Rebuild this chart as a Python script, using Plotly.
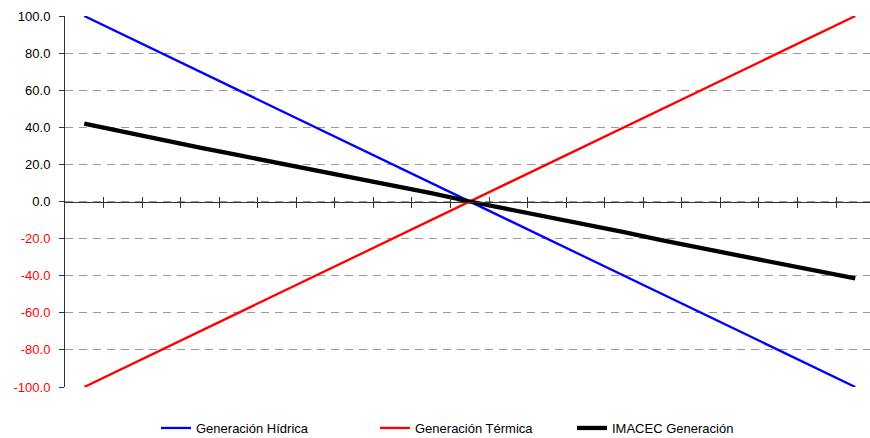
import plotly.graph_objects as go

# Series values (one point per scenario step)
hidrica = [100, 90, 80, 70, 60, 50, 40, 30, 20, 10, 0,
           -10, -20, -30, -40, -50, -60, -70, -80, -90, -100]
termica = [-100, -90, -80, -70, -60, -50, -40, -30, -20, -10, 0,
           10, 20, 30, 40, 50, 60, 70, 80, 90, 100]
imacec = [42, 37.5, 33, 29, 25, 21, 17, 13, 9, 4.5, 0,
          -4, -8, -12, -16.5, -21, -25, -29, -33, -37.5, -41.5]

y_ticks = [100, 80, 60, 40, 20, 0, -20, -40, -60, -80, -100]

n = len(hidrica)
x = list(range(n))

FONT = "Arial, Liberation Sans, sans-serif"

W, H = 870, 438
ML, MR, MT, MB = 65, 0, 16, 51
plot_w = W - ML - MR
plot_h = H - MT - MB
cat_w = 38.55  # pixel width of one category slot


def px_to_paper_x(px):
    return (px - ML) / plot_w


def px_to_paper_y(py):
    return (H - MB - py) / plot_h


fig = go.Figure()
fig.add_trace(go.Scatter(x=x, y=hidrica, mode="lines", name="Generación Hídrica",
                         line=dict(color="#0000ff", width=2.3), legend="legend"))
fig.add_trace(go.Scatter(x=x, y=termica, mode="lines", name="Generación Térmica",
                         line=dict(color="#ff0000", width=2.3), legend="legend2"))
fig.add_trace(go.Scatter(x=x, y=imacec, mode="lines", name="IMACEC Generación",
                         line=dict(color="#000000", width=4.3), legend="legend3"))


def tick_label(v):
    s = f"{v:.1f}"
    if v < 0:
        return f"<span style='color:#ff0000'>{s}</span>"
    return s


x_range = [-0.5, -0.5 + plot_w / cat_w]
boundaries = [k + 0.5 for k in range(n - 1)]

fig.update_layout(
    width=W, height=H,
    margin=dict(l=ML, r=MR, t=MT, b=MB, pad=0, autoexpand=False),
    paper_bgcolor="white", plot_bgcolor="white",
    font=dict(family=FONT, size=13, color="#000000"),
    showlegend=True,
    xaxis=dict(
        range=x_range, showgrid=False, zeroline=False,
        showline=True, linecolor="#333333", linewidth=1,
        anchor="free", position=0.5,
        tickmode="array", tickvals=boundaries, showticklabels=False,
        ticks="outside", ticklen=5, tickcolor="#333333", tickwidth=1,
    ),
    xaxis2=dict(
        range=x_range, overlaying="x", showgrid=False, zeroline=False,
        showline=False, anchor="free", position=0.5, side="bottom",
        tickmode="array", tickvals=boundaries, showticklabels=False,
        ticks="inside", ticklen=5, tickcolor="#333333", tickwidth=1,
    ),
    yaxis=dict(
        range=[-100, 100], zeroline=False,
        showline=True, linecolor="#333333", linewidth=1,
        tickmode="array", tickvals=y_ticks,
        ticktext=[tick_label(v) for v in y_ticks],
        ticks="outside", ticklen=5, tickcolor="#333333",
        ticklabelstandoff=6,
        tickfont=dict(family=FONT, size=13, color="#000000"),
        showgrid=True, gridcolor="#999999", gridwidth=1, griddash="8px,6px",
    ),
)

# invisible trace to bring up the upper tick set of the category axis
fig.add_trace(go.Scatter(x=[x[0]], y=[None], xaxis="x2", showlegend=False,
                         hoverinfo="skip"))

leg_common = dict(orientation="h", yanchor="middle", xanchor="left",
                  y=px_to_paper_y(428), bgcolor="rgba(0,0,0,0)",
                  font=dict(family=FONT, size=13, color="#000000"),
                  itemwidth=30)
fig.update_layout(
    legend=dict(x=px_to_paper_x(156), **leg_common),
    legend2=dict(x=px_to_paper_x(375), **leg_common),
    legend3=dict(x=px_to_paper_x(572), **leg_common),
)

fig.write_html("out.html")
